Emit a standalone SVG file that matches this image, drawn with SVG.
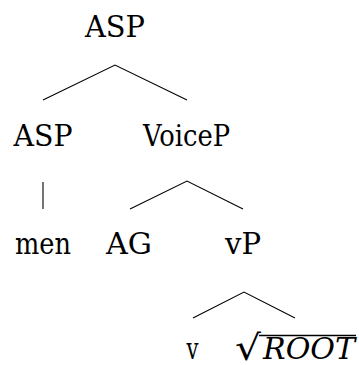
<svg xmlns="http://www.w3.org/2000/svg" width="359" height="365" viewBox="0 0 359 365">
<style>
text{font-family:"DejaVu Serif","Liberation Serif",serif;font-size:29px;fill:#000;text-anchor:middle}
.it{font-style:italic;text-anchor:start}
.edge{stroke:#000;stroke-width:1.1;fill:none}
</style>
<rect width="359" height="365" fill="#fff"/>
<g id="connectors">
<path class="edge" d="M43,100 L115,65 L187,100"/>
<path class="edge" d="M43,182 L43,209"/>
<path class="edge" d="M130,209 L187,181 L243,209"/>
<path class="edge" d="M193,318 L244,292 L295,318"/>
</g>
<g id="n-asp-top"><text x="115" y="37" textLength="60" lengthAdjust="spacingAndGlyphs">ASP</text></g>
<g id="n-asp"><text x="43" y="146" textLength="59" lengthAdjust="spacingAndGlyphs">ASP</text></g>
<g id="n-voicep"><text x="186.5" y="146" textLength="87" lengthAdjust="spacingAndGlyphs">VoiceP</text></g>
<g id="n-men"><text x="43" y="254" textLength="56" lengthAdjust="spacingAndGlyphs">men</text></g>
<g id="n-ag"><text x="129" y="254" textLength="46" lengthAdjust="spacingAndGlyphs">AG</text></g>
<g id="n-vp"><text x="243" y="254" textLength="36" lengthAdjust="spacingAndGlyphs">vP</text></g>
<g id="n-v"><text x="192.5" y="359" textLength="12" lengthAdjust="spacingAndGlyphs">v</text></g>
<g id="n-root">
<text x="235" y="360" style="text-anchor:start;font-size:35px" textLength="26" lengthAdjust="spacingAndGlyphs">√</text>
<line x1="259" y1="335.5" x2="356" y2="335.5" stroke="#000" stroke-width="1.3"/>
<text class="it" x="263" y="359" textLength="92" lengthAdjust="spacingAndGlyphs">ROOT</text>
</g>
</svg>
